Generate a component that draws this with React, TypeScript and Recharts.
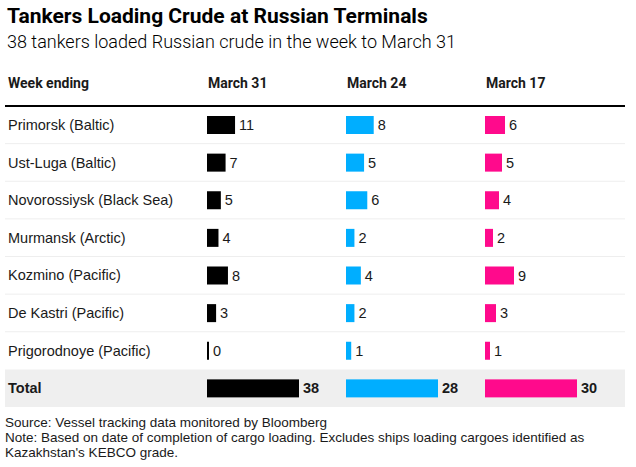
import React from 'react';
import {
  BarChart,
  Bar,
  XAxis,
  YAxis,
  LabelList,
  ReferenceArea,
  ReferenceLine,
} from 'recharts';

// tankers loaded per terminal, by week ending
const terminals = [
  'Primorsk (Baltic)',
  'Ust-Luga (Baltic)',
  'Novorossiysk (Black Sea)',
  'Murmansk (Arctic)',
  'Kozmino (Pacific)',
  'De Kastri (Pacific)',
  'Prigorodnoye (Pacific)',
  'Total',
];
const weeks = ['March 31', 'March 24', 'March 17'];
const march31 = [11, 7, 5, 4, 8, 3, 0, 38];
const march24 = [8, 5, 6, 2, 4, 2, 1, 28];
const march17 = [6, 5, 4, 2, 9, 3, 1, 30];
const colors = ['#000000', '#00AEFF', '#FF0A8C'];

const data = terminals.map((name, i) => ({
  name,
  w31: march31[i],
  w24: march24[i],
  w17: march17[i],
}));

const W = 636;
const H = 467;
const FONT = 'Roboto, "Noto Sans", Arial, sans-serif';
const BODY_FONT = '"Liberation Sans", Arial, sans-serif';
const PLOT_LEFT = 5;
const PLOT_RIGHT = 625;
const PLOT_W = PLOT_RIGHT - PLOT_LEFT;
const COL_X = [207, 346, 485]; // where each column's bars start
const BAR_MAX = 90; // px for the column total

// each column is scaled to its own total, zero placed at the column start
function domainFor(col: number, total: number): [number, number] {
  const k = BAR_MAX / total;
  const off = COL_X[col] - PLOT_LEFT;
  return [-off / k, (PLOT_W - off) / k];
}

const series = [
  { key: 'w31', id: 'a', values: march31 },
  { key: 'w24', id: 'b', values: march24 },
  { key: 'w17', id: 'c', values: march17 },
];

const BarShape = (props: any) => {
  const { x, y, width, height, fill } = props;
  return <rect x={x} y={y} width={Math.max(0, width) + 2} height={height} fill={fill} />;
};

const RowTick = (props: any) => {
  const { y, payload } = props;
  const isTotal = payload.value === 'Total';
  return (
    <text
      x={8}
      y={y}
      dy="0.35em"
      fontSize={14.5}
      fontWeight={isTotal ? 700 : 400}
      fill="#1a1a1a"
      fontFamily={BODY_FONT}
    >
      {payload.value}
    </text>
  );
};

const ValueLabel = (props: any) => {
  const { x, y, width, height, value, index } = props;
  const isTotal = terminals[index] === 'Total';
  return (
    <text
      x={x + width + 6}
      y={y + height / 2}
      dy="0.35em"
      fontSize={14.5}
      fontWeight={isTotal ? 700 : 400}
      fill="#1a1a1a"
      fontFamily={BODY_FONT}
    >
      {value}
    </text>
  );
};

export default function App() {
  return (
    <div
      style={{
        position: 'absolute',
        left: 0,
        top: 0,
        width: W,
        height: H,
        background: '#fff',
        fontFamily: FONT,
        color: '#1a1a1a',
      }}
    >
      <div style={{ position: 'absolute', left: 7, top: 4, fontSize: 21, fontWeight: 700, color: '#000' }}>
        Tankers Loading Crude at Russian Terminals
      </div>
      <div style={{ position: 'absolute', left: 7, top: 31, fontSize: 18, fontWeight: 300, color: '#000' }}>
        38 tankers loaded Russian crude in the week to March 31
      </div>
      <div style={{ position: 'absolute', left: 8, top: 75, fontSize: 14, fontWeight: 700 }}>Week ending</div>
      {weeks.map((w, i) => (
        <div key={w} style={{ position: 'absolute', left: COL_X[i] + 1, top: 75, fontSize: 14, fontWeight: 700 }}>
          {w}
        </div>
      ))}

      <BarChart
        width={W}
        height={H}
        data={data}
        layout="vertical"
        margin={{ top: 106, right: W - PLOT_RIGHT, bottom: H - 407, left: PLOT_LEFT }}
        style={{ position: 'absolute', left: 0, top: 0 }}
      >
        {series.map((s, i) => (
          <XAxis
            key={s.id}
            xAxisId={s.id}
            type="number"
            hide
            allowDataOverflow
            domain={domainFor(i, s.values[s.values.length - 1])}
          />
        ))}
        <YAxis
          yAxisId="a"
          type="category"
          dataKey="name"
          mirror
          axisLine={false}
          tickLine={false}
          tick={<RowTick />}
          interval={0}
        />
        <YAxis yAxisId="b" type="category" dataKey="name" hide />
        <YAxis yAxisId="c" type="category" dataKey="name" hide />

        <ReferenceArea xAxisId="a" yAxisId="a" y1="Total" y2="Total" fill="#efefef" fillOpacity={1} stroke="none" />
        {terminals.slice(1, terminals.length - 1).map((t) => (
          <ReferenceLine key={t} xAxisId="a" yAxisId="a" y={t} position="start" stroke="#eeeeee" strokeWidth={1} />
        ))}
        <ReferenceLine xAxisId="a" yAxisId="a" y={terminals[0]} position="start" stroke="#000" strokeWidth={2} />

        {series.map((s, i) => (
          <Bar
            key={s.key}
            dataKey={s.key}
            xAxisId={s.id}
            yAxisId={s.id}
            fill={colors[i]}
            barSize={18}
            shape={<BarShape />}
            isAnimationActive={false}
          >
            <LabelList dataKey={s.key} content={<ValueLabel />} />
          </Bar>
        ))}
      </BarChart>

      <div
        style={{
          position: 'absolute',
          left: 5,
          top: 415,
          fontSize: 13.5,
          lineHeight: '15px',
          color: '#1a1a1a',
          fontFamily: BODY_FONT,
        }}
      >
        Source: Vessel tracking data monitored by Bloomberg
        <br />
        Note: Based on date of completion of cargo loading. Excludes ships loading cargoes identified as
        <br />
        Kazakhstan's KEBCO grade.
      </div>
    </div>
  );
}
